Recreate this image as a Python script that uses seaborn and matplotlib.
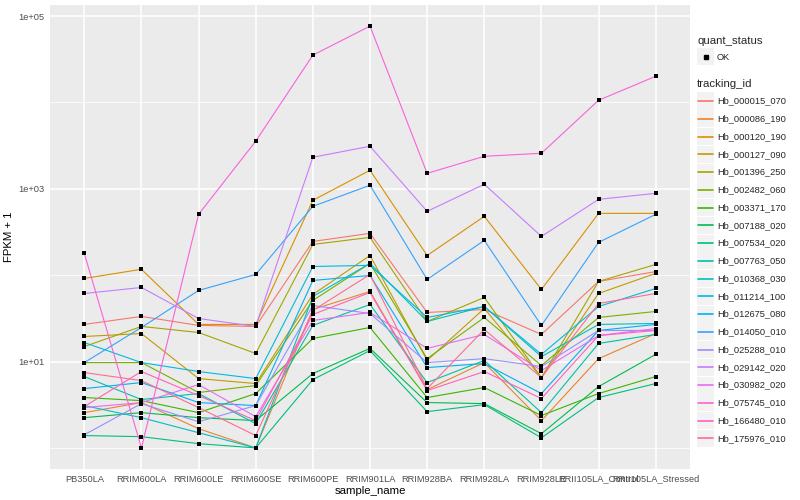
import numpy as np
import pandas as pd
import matplotlib
matplotlib.use("Agg")
import matplotlib.pyplot as plt
import seaborn as sns
from matplotlib.patches import Rectangle
from matplotlib.lines import Line2D
from matplotlib.ticker import FixedLocator, NullFormatter

samples = ["PB350LA", "RRIM600LA", "RRIM600LE", "RRIM600SE", "RRIM600PE",
           "RRIM901LA", "RRIM928BA", "RRIM928LA", "RRIM928LE",
           "RRII105LA_Control", "RRII105LA_Stressed"]

tracking_ids = ["Hb_000015_070", "Hb_000086_190", "Hb_000120_190", "Hb_000127_090",
                "Hb_001396_250", "Hb_002482_060", "Hb_003371_170", "Hb_007188_020",
                "Hb_007534_020", "Hb_007763_050", "Hb_010368_030", "Hb_011214_100",
                "Hb_012675_080", "Hb_014050_010", "Hb_025288_010", "Hb_029142_020",
                "Hb_030982_020", "Hb_075745_010", "Hb_166480_010", "Hb_175976_010"]

colors = ["#F8766D", "#EA8331", "#D89000", "#C09B00", "#A3A500", "#7CAE00",
          "#39B600", "#00BB4E", "#00BF7D", "#00C1A3", "#00BFC4", "#00BAE0",
          "#00B0F6", "#35A2FF", "#9590FF", "#C77CFF", "#E76BF3", "#FA62DB",
          "#FF62BC", "#FF6C91"]

# FPKM + 1 values, one list per tracking_id (in sample order)
hb_000015_070 = [26.9, 33.3, 26.2, 25.5, 246, 305, 37.0, 40.1, 20.6, 84.7, 110]
hb_000086_190 = [2.56, 3.35, 1.67, 1.0, 40.1, 64.8, 4.73, 9.73, 2.07, 10.8, 21.1]
hb_000120_190 = [91.7, 117, 26.9, 26.9, 736, 1640, 169, 480, 68.4, 520, 520]
hb_000127_090 = [19.5, 21.1, 6.35, 5.56, 59.8, 169, 10.3, 41.2, 6.52, 61.4, 105]
hb_001396_250 = [14.9, 25.5, 21.7, 12.4, 227, 274, 29.1, 55.2, 6.52, 84.7, 133]
hb_002482_060 = [9.73, 9.73, 4.38, 5.27, 51.0, 137, 10.8, 32.4, 8.99, 32.4, 38.0]
hb_003371_170 = [3.83, 3.53, 2.56, 4.26, 18.5, 24.8, 3.83, 5.00, 2.37, 4.26, 6.70]
hb_007188_020 = [2.24, 2.56, 2.24, 2.07, 7.26, 14.2, 3.35, 3.26, 1.46, 5.13, 12.1]
hb_007534_020 = [1.39, 1.35, 1.12, 1.0, 6.18, 13.4, 2.63, 3.17, 1.31, 3.83, 5.56]
hb_007763_050 = [6.70, 3.63, 4.26, 1.91, 26.2, 45.8, 5.71, 10.3, 2.56, 16.2, 20.6]
hb_010368_030 = [3.09, 2.24, 1.50, 1.0, 56.7, 137, 29.1, 43.4, 11.4, 26.9, 27.6]
hb_011214_100 = [16.6, 9.73, 7.66, 6.35, 126, 130, 32.4, 43.4, 12.1, 43.4, 70.2]
hb_012675_080 = [4.86, 5.71, 3.35, 3.09, 86.9, 99.3, 8.52, 9.48, 4.26, 22.9, 26.9]
hb_014050_010 = [9.73, 24.8, 66.6, 102, 627, 1100, 89.3, 253, 26.2, 240, 506]
hb_025288_010 = [1.42, 3.26, 2.01, 3.09, 44.6, 36.0, 9.73, 10.8, 8.75, 22.9, 22.9]
hb_029142_020 = [61.4, 72.1, 31.5, 25.5, 2320, 3110, 548, 1130, 281, 755, 887]
hb_030982_020 = [2.93, 3.35, 5.41, 2.30, 29.9, 37.0, 14.2, 20.6, 7.87, 20.0, 24.1]
hb_075745_010 = [179, 1.0, 506, 3560, 35300, 76600, 1510, 2380, 2580, 10600, 20100]
hb_166480_010 = [3.01, 7.66, 4.04, 2.07, 35.1, 63.1, 4.61, 7.66, 3.73, 20.0, 22.9]
hb_175976_010 = [7.45, 6.02, 2.93, 1.39, 39.0, 102, 4.86, 23.5, 6.52, 47.0, 61.4]

series = [hb_000015_070, hb_000086_190, hb_000120_190, hb_000127_090, hb_001396_250,
          hb_002482_060, hb_003371_170, hb_007188_020, hb_007534_020, hb_007763_050,
          hb_010368_030, hb_011214_100, hb_012675_080, hb_014050_010, hb_025288_010,
          hb_029142_020, hb_030982_020, hb_075745_010, hb_166480_010, hb_175976_010]

rows = []
for tid, vals in zip(tracking_ids, series):
    for s, v in zip(samples, vals):
        rows.append({"tracking_id": tid, "sample_name": s, "fpkm1": v,
                     "xpos": samples.index(s)})
df = pd.DataFrame(rows)

sns.set_style("darkgrid")
plt.rcParams['font.family'] = ['Liberation Sans', 'DejaVu Sans']

W, H = 800, 500
fig = plt.figure(figsize=(8, 5), dpi=100)
ax = fig.add_axes([50 / W, 1 - 469 / H, 640 / W, 464 / H])
ax.set_facecolor("#EBEBEB")

sns.lineplot(data=df, x="xpos", y="fpkm1", hue="tracking_id", hue_order=tracking_ids,
             palette=colors, linewidth=0.8, legend=False, ax=ax, sort=False,
             estimator=None, zorder=2)
sns.scatterplot(data=df, x="xpos", y="fpkm1", color="black", s=10, marker="s",
                linewidth=0, legend=False, ax=ax, zorder=3)

ax.set_yscale("log")
lo, hi = np.log10(df.fpkm1.min()), np.log10(df.fpkm1.max())
pad = 0.05 * (hi - lo)
ax.set_ylim(10 ** (lo - pad), 10 ** (hi + pad))
ax.set_xlim(-0.6, len(samples) - 1 + 0.6)

ax.yaxis.set_major_locator(FixedLocator([10, 1e3, 1e5]))
ax.yaxis.set_minor_locator(FixedLocator([1, 1e2, 1e4]))
ax.yaxis.set_minor_formatter(NullFormatter())
ax.set_yticklabels(["1e+01", "1e+03", "1e+05"])
ax.set_xticks(range(len(samples)))
ax.set_xticklabels(samples)
ax.xaxis.set_minor_locator(FixedLocator([]))

ax.grid(which="major", color="white", linewidth=1.1)
ax.grid(which="minor", axis="y", color="white", linewidth=0.55)
ax.set_axisbelow(True)
for sp in ax.spines.values():
    sp.set_visible(False)
ax.tick_params(axis="both", which="major", length=2.5, width=0.6, color="#333333",
               labelsize=6.7, labelcolor="#4D4D4D", pad=1.5)
ax.tick_params(axis="y", which="minor", length=0)

ax.set_xlabel("sample_name", fontsize=8.2, color="black", labelpad=2)
ax.set_ylabel("FPKM + 1", fontsize=8.2, color="black", labelpad=3)

# Legends (ggplot style)
def fx(x):
    return x / W

def fy(y):
    return 1 - y / H

fig.text(fx(697), fy(41), "quant_status", fontsize=8.2, va="center", ha="left")
fig.add_artist(Rectangle((fx(697), fy(65)), 17 / W, 17 / H, transform=fig.transFigure,
                         facecolor="#F2F2F2", edgecolor="none", zorder=1))
fig.add_artist(Line2D([fx(705.5)], [fy(56.5)], marker="s", markersize=2.6,
                      color="black", transform=fig.transFigure, linestyle="none",
                      zorder=3))
fig.text(fx(717), fy(57), "OK", fontsize=6.7, va="center", ha="left")

fig.text(fx(697), fy(84), "tracking_id", fontsize=8.2, va="center", ha="left")
for i, (tid, col) in enumerate(zip(tracking_ids, colors)):
    yc = 101 + i * 17.75
    fig.add_artist(Rectangle((fx(697), fy(yc + 8.5)), 17 / W, 17 / H,
                             transform=fig.transFigure, facecolor="#F2F2F2",
                             edgecolor="none", zorder=1))
    fig.add_artist(Line2D([fx(698), fx(713)], [fy(yc), fy(yc)], color=col,
                          linewidth=1.2, transform=fig.transFigure, zorder=3))
    fig.text(fx(717), fy(yc), tid, fontsize=6.7, va="center", ha="left")

fig.savefig("out.png", dpi=100)
